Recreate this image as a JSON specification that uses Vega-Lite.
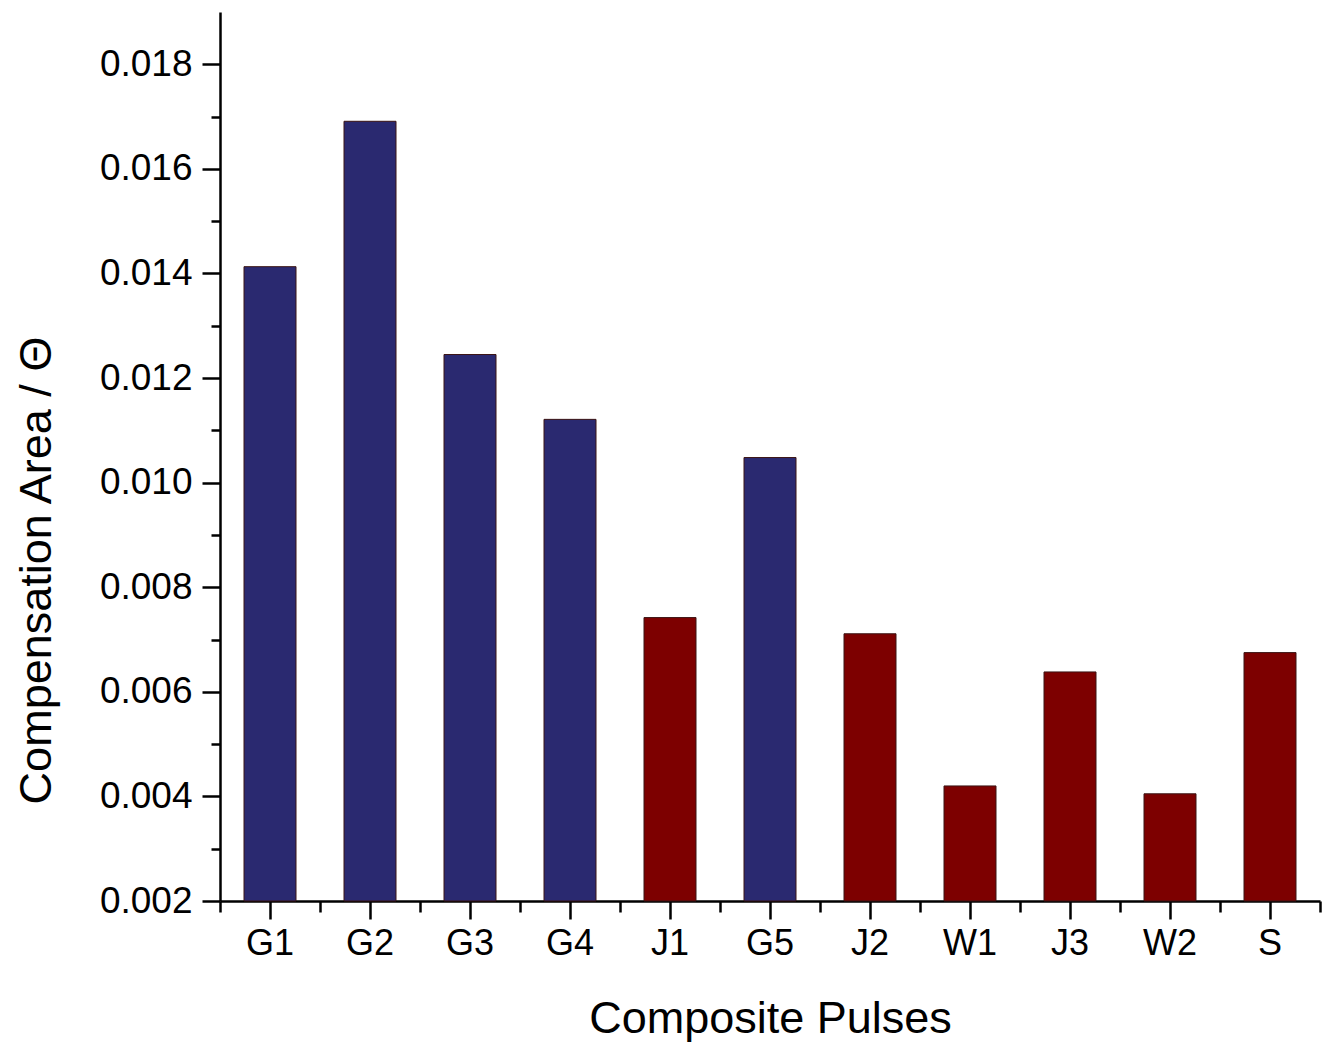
{
  "$schema": "https://vega.github.io/schema/vega-lite/v6.json",
  "width": 1100,
  "height": 889,
  "autosize": {"type": "none"},
  "padding": {"left": 220, "top": 12, "right": 16, "bottom": 143},
  "background": "white",
  "config": {
    "view": {"stroke": null},
    "font": "Liberation Sans",
    "axis": {
      "domainColor": "black",
      "domainWidth": 2.5,
      "tickColor": "black",
      "tickWidth": 2.5,
      "labelColor": "black",
      "titleColor": "black",
      "labelFont": "Liberation Sans",
      "titleFont": "Liberation Sans",
      "titleFontWeight": "normal",
      "grid": false
    }
  },
  "data": {
    "values": [
      {"pulse": "G1", "family": "G", "area": 0.01413},
      {"pulse": "G2", "family": "G", "area": 0.01691},
      {"pulse": "G3", "family": "G", "area": 0.01245},
      {"pulse": "G4", "family": "G", "area": 0.01121},
      {"pulse": "J1", "family": "J", "area": 0.00742},
      {"pulse": "G5", "family": "G", "area": 0.01048},
      {"pulse": "J2", "family": "J", "area": 0.00711},
      {"pulse": "W1", "family": "W", "area": 0.0042},
      {"pulse": "J3", "family": "J", "area": 0.00638},
      {"pulse": "W2", "family": "W", "area": 0.00405},
      {"pulse": "S", "family": "S", "area": 0.00675}
    ]
  },
  "resolve": {"axis": {"x": "independent", "y": "independent"}},
  "layer": [
    {
      "mark": {"type": "bar", "opacity": 0},
      "encoding": {
        "x": {
          "field": "pulse",
          "type": "nominal",
          "sort": null,
          "scale": {"paddingInner": 0, "paddingOuter": 0},
          "axis": {
            "orient": "bottom",
            "title": null,
            "labels": false,
            "domain": false,
            "tickBand": "extent",
            "tickSize": 11
          }
        },
        "y": {
          "field": "area",
          "type": "quantitative",
          "scale": {"domain": [0.002, 0.019], "nice": false, "zero": false, "clamp": true},
          "axis": {
            "orient": "left",
            "title": null,
            "labels": false,
            "domain": false,
            "tickSize": 9,
            "values": [0.003, 0.005, 0.007, 0.009, 0.011, 0.013, 0.015, 0.017]
          }
        }
      }
    },
    {
      "mark": {"type": "bar", "width": {"band": 0.52}, "stroke": "#3b1414", "strokeWidth": 1},
      "encoding": {
        "x": {
          "field": "pulse",
          "type": "nominal",
          "sort": null,
          "axis": {
            "orient": "bottom",
            "title": "Composite Pulses",
            "titleFontSize": 45,
            "titlePadding": 35,
            "labelFontSize": 36,
            "labelAngle": 0,
            "labelPadding": 7,
            "tickSize": 18
          }
        },
        "y": {
          "field": "area",
          "type": "quantitative",
          "axis": {
            "orient": "left",
            "title": "Compensation Area / Θ",
            "titleFontSize": 45,
            "titlePadding": 40,
            "titleY": 558,
            "labelFontSize": 37,
            "labelPadding": 10,
            "tickSize": 18,
            "values": [0.002, 0.004, 0.006, 0.008, 0.01, 0.012, 0.014, 0.016, 0.018],
            "format": ".3f"
          }
        },
        "color": {
          "field": "family",
          "type": "nominal",
          "scale": {"domain": ["G", "J", "W", "S"], "range": ["#2a2970", "#7d0000", "#7d0000", "#7d0000"]},
          "legend": null
        }
      }
    }
  ]
}
